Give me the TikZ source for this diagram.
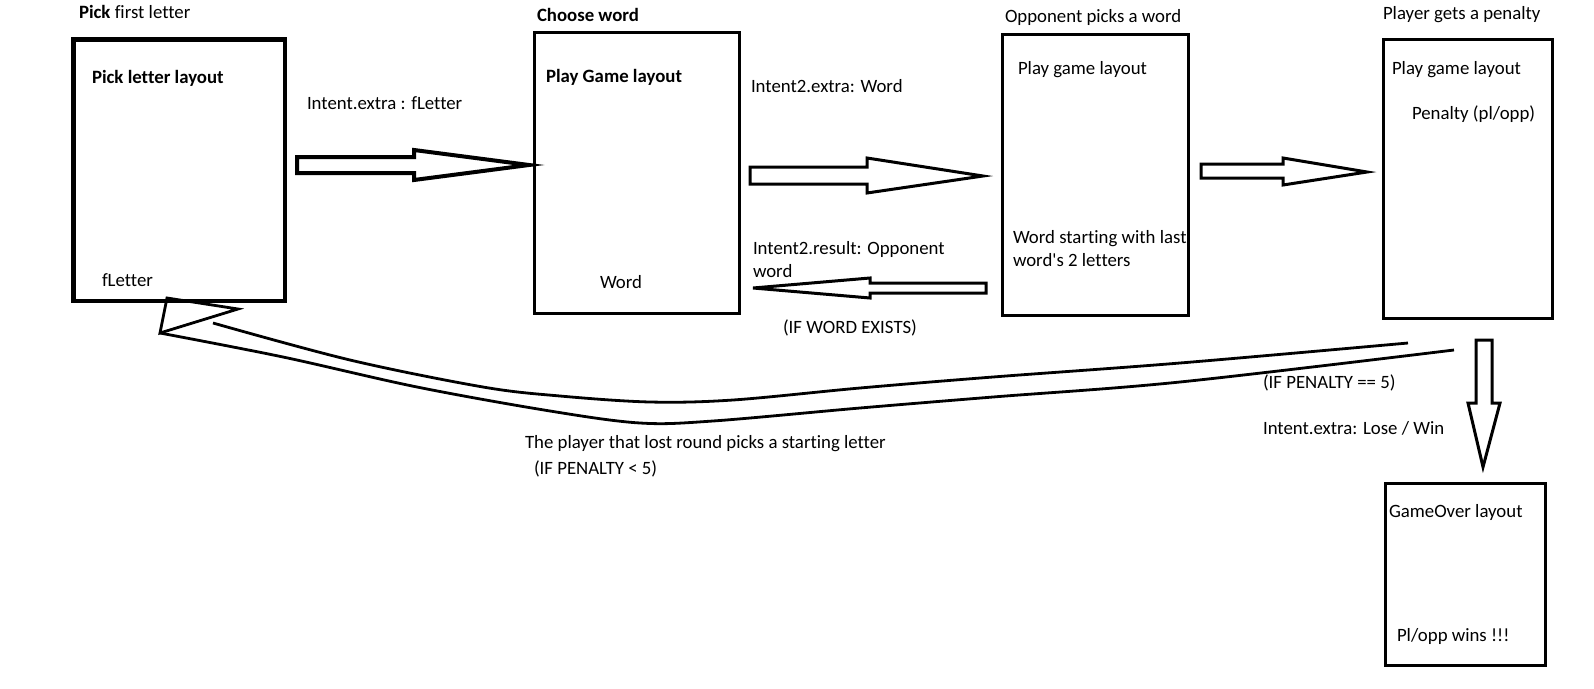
\documentclass[tikz,border=0pt]{standalone}
\usepackage{fontspec}
\setmainfont{Carlito}[Ligatures={TeXOff,CommonOff}]
\begin{document}
\begin{tikzpicture}[x=1pt,y=-1pt,
  box/.style={draw, rectangle, line width=3pt, inner sep=0pt, outer sep=0pt},
  txt/.style={anchor=base west, inner sep=0pt, outer sep=0pt, font=\fontsize{18.8}{23}\selectfont},
  blockarrow/.style={draw, line width=3pt, line join=miter, fill=white},
  curve/.style={draw, line width=2.8pt}]
\useasboundingbox (0,0) rectangle (1594,688);
% boxes
\node[box, line width=4.3pt, minimum width=211.5pt, minimum height=261.5pt] (b1) at (179.25,170.25) {};
\node[box, minimum width=205pt, minimum height=281pt] (b2) at (636.5,173) {};
\node[box, minimum width=186pt, minimum height=281pt] (b3) at (1095.5,174.5) {};
\node[box, minimum width=169.5pt, minimum height=279.3pt] (b4) at (1467.75,178.65) {};
\node[box, minimum width=160.5pt, minimum height=182.3pt] (b5) at (1465.25,574.15) {};
% texts
\node[txt] (t1) at (79,18) {\textbf{Pick} first letter};
\node[txt] (t2) at (92,83) {\textbf{Pick letter layout}};
\node[txt] (t3) at (102,286) {fLetter};
\node[txt] (t4) at (307,109) {Intent.extra : fLetter};
\node[txt] (t5) at (537,21) {\textbf{Choose word}};
\node[txt] (t6) at (546,82) {\textbf{Play Game layout}};
\node[txt] (t7) at (600,288) {Word};
\node[txt] (t8) at (751,92) {Intent2.extra: Word};
\node[txt] (t9) at (753,254) {Intent2.result: Opponent};
\node[txt] (t9b) at (753,277) {word};
\node[txt] (t10) at (783,333) {(IF WORD EXISTS)};
\node[txt] (t11) at (1005,23) {Opponent picks a word};
\node[txt] (t12) at (1018,74) {Play game layout};
\node[txt] (t13) at (1013,243) {Word starting with last};
\node[txt] (t13b) at (1013,266) {word's 2 letters};
\node[txt] (t14) at (1383,19) {Player gets a penalty};
\node[txt] (t15) at (1392,74) {Play game layout};
\node[txt] (t16) at (1412,119) {Penalty (pl/opp)};
\node[txt] (t17) at (1263,388) {(IF PENALTY == 5)};
\node[txt] (t18) at (1263,434) {Intent.extra: Lose / Win};
\node[txt] (t19) at (525,448) {The player that lost round picks a starting letter};
\node[txt] (t20) at (534,474) {(IF PENALTY < 5)};
\node[txt] (t21) at (1389,517) {GameOver layout};
\node[txt] (t22) at (1397,641) {Pl/opp wins !!!};
% block arrows
\path[blockarrow, line width=4pt] (297,157) -- (414,157) -- (414,150) -- (529,165) -- (414,180) -- (414,173) -- (297,173) -- cycle;
\path[blockarrow] (750,167) -- (867,167) -- (867,158) -- (983,176) -- (867,193) -- (867,184) -- (750,184) -- cycle;
\path[blockarrow] (986,283) -- (870,283) -- (870,278) -- (753,288) -- (870,298) -- (870,293) -- (986,293) -- cycle;
\path[blockarrow] (1201,164) -- (1283,164) -- (1283,158) -- (1367,172) -- (1283,185) -- (1283,178) -- (1201,178) -- cycle;
\path[blockarrow] (1476,340) -- (1492,340) -- (1492,403) -- (1500,403) -- (1483,467) -- (1468,403) -- (1476,403) -- cycle;
% curved return arrow
\path[curve] plot[smooth, tension=0.55] coordinates {(1408,343) (1180,363) (993,377) (860,388) (733,400) (650,402) (560,396) (483,387) (350,360) (213,323)};
\path[curve] plot[smooth, tension=0.55] coordinates {(1454,350) (1180,382) (993,397) (860,408) (713,421) (640,423) (550,411) (417,387) (283,357) (160,333)};
\path[curve, line join=miter] (167,298) -- (238,309) -- (160,333) -- cycle;
\end{tikzpicture}
\end{document}
